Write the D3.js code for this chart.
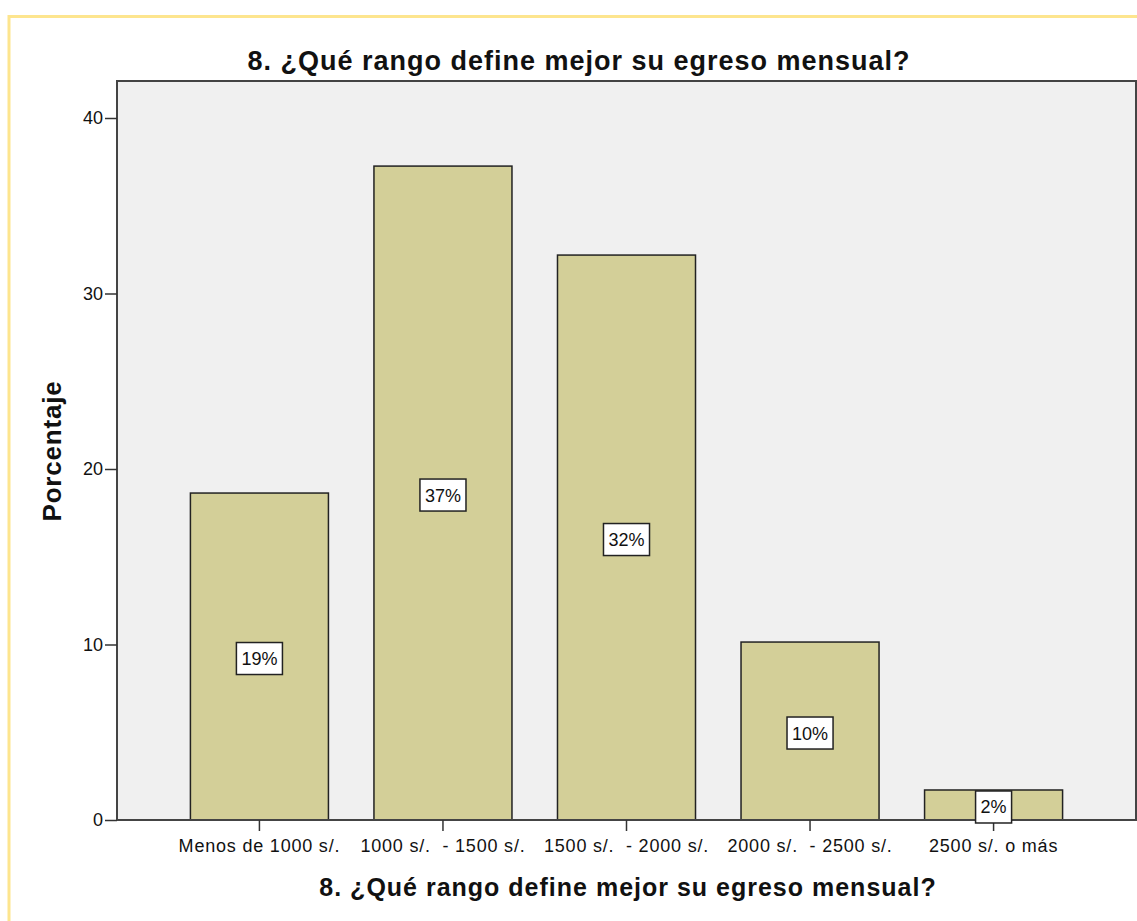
<!DOCTYPE html>
<html><head><meta charset="utf-8">
<script src="https://cdn.jsdelivr.net/npm/d3@7"></script>
<style>body{margin:0;background:#fff;} text{font-family:Arial,"Liberation Sans",sans-serif;white-space:pre;}</style>
</head><body>
<svg id="c" width="1137" height="921"></svg>
<script>
const categories = ["Menos de 1000 s/.", "1000 s/.  - 1500 s/.", "1500 s/.  - 2000 s/.", "2000 s/.  - 2500 s/.", "2500 s/. o más"];
const values = [18.63, 37.26, 32.19, 10.14, 1.71];
const barLabels = ["19%", "37%", "32%", "10%", "2%"];
const yTicks = [0, 10, 20, 30, 40];
const title = "8. ¿Qué rango define mejor su egreso mensual?";
const yTitle = "Porcentaje";

const FF = "Arial, 'Liberation Sans', sans-serif";
const svg = d3.select("#c");
// outer yellow frame
svg.append("rect").attr("x",9).attr("y",16.5).attr("width",1140).attr("height",920)
  .attr("fill","none").attr("stroke","#fde58e").attr("stroke-width",3);

const L=117, R=1136, T=81, B=820;
const y = d3.scaleLinear().domain([0,40]).range([B,118]);
const x = d3.scaleBand().domain(categories).range([L,R]).paddingInner(0.248).paddingOuter(0.40);

svg.append("rect").attr("x",L).attr("y",T).attr("width",R-L).attr("height",B-T).attr("fill","#f0f0f0");

svg.selectAll("rect.bar").data(values).join("rect").attr("class","bar")
  .attr("x",(d,i)=>x(categories[i])).attr("width",x.bandwidth())
  .attr("y",d=>y(d)).attr("height",d=>B-y(d))
  .attr("fill","#d3cf98").attr("stroke","#222").attr("stroke-width",1.5);

// plot frame
svg.append("rect").attr("x",L).attr("y",T).attr("width",R-L).attr("height",B-T)
  .attr("fill","none").attr("stroke","#444").attr("stroke-width",2);

// y axis
const ya = svg.append("g").attr("transform",`translate(${L},0)`)
  .call(d3.axisLeft(y).tickValues(yTicks).tickSize(12).tickPadding(2));
ya.select(".domain").remove();
ya.selectAll("line").attr("stroke","#333").attr("stroke-width",1.5);
ya.selectAll("text").attr("font-size",18).attr("fill","#111").style("font-family",FF);

// x axis
const xa = svg.append("g").attr("transform",`translate(0,${B})`)
  .call(d3.axisBottom(x).tickSize(11).tickPadding(8));
xa.select(".domain").remove();
xa.selectAll("line").attr("stroke","#333").attr("stroke-width",1.5);
xa.selectAll("text").attr("font-size",18).attr("fill","#111").style("font-family",FF)
  .style("white-space","pre").style("letter-spacing","0.8px");

// value labels
const lg = svg.selectAll("g.lab").data(values).join("g").attr("class","lab")
  .attr("transform",(d,i)=>`translate(${x(categories[i])+x.bandwidth()/2},${y(d/2)+2})`);
lg.append("rect").attr("fill","#fff").attr("stroke","#222").attr("stroke-width",1.5);
lg.append("text").attr("text-anchor","middle").attr("dy","0.36em").attr("font-size",18).attr("fill","#111")
  .text((d,i)=>barLabels[i]);
lg.each(function(){
  const g = d3.select(this);
  const w = g.select("text").node().getComputedTextLength() + 10;
  g.select("rect").attr("x",-w/2).attr("y",-16).attr("width",w).attr("height",32);
});

// titles
svg.append("text").attr("x",579).attr("y",70).attr("text-anchor","middle")
  .attr("font-size",27).attr("font-weight","bold").attr("fill","#111").style("letter-spacing","1px").text(title);
svg.append("text").attr("x",628).attr("y",896).attr("text-anchor","middle")
  .attr("font-size",25).attr("font-weight","bold").attr("fill","#111").style("letter-spacing","1px").text(title);
svg.append("text").attr("transform","translate(61,451) rotate(-90)").attr("text-anchor","middle")
  .attr("font-size",26).attr("font-weight","bold").attr("fill","#111").style("letter-spacing","0.8px").text(yTitle);
</script>
</body></html>
